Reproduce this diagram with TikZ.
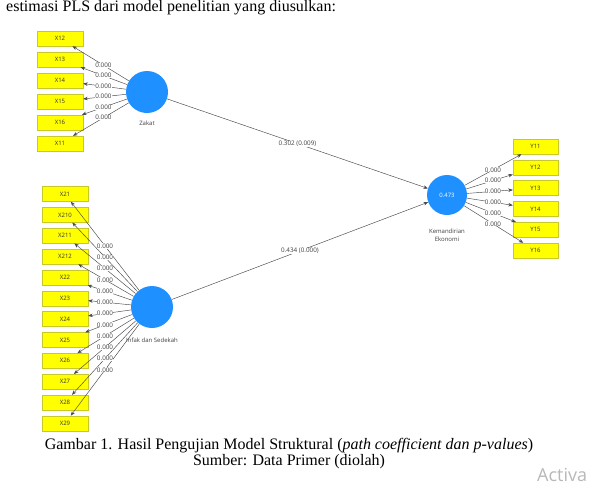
\documentclass[tikz,border=0pt]{standalone}
\usepackage{fontspec}
\setmainfont{Liberation Serif}
\newfontfamily\uifont{Open Sans}
\usetikzlibrary{arrows.meta}
\definecolor{lvblue}{RGB}{30,144,255}
\definecolor{indbox}{RGB}{255,255,0}
\definecolor{indborder}{RGB}{200,200,40}
\begin{document}
\begin{tikzpicture}[x=1pt,y=-1pt,
  ind/.style={draw=indborder, fill=indbox, line width=0.4pt, minimum width=46pt, minimum height=15pt, inner sep=0pt, font=\uifont\fontsize{6}{7}\selectfont, text=black!80},
  lv/.style={circle, fill=lvblue, minimum size=42pt, inner sep=0pt, font=\uifont\fontsize{6}{7}\selectfont, text=white},
  ld/.style={font=\uifont\fontsize{6.3}{7}\selectfont, fill=white, inner sep=0.3pt, text=black!75},
  lvlab/.style={font=\uifont\fontsize{6}{8}\selectfont, text=black!75, align=center},
  conn/.style={draw=black!72, line width=0.45pt, -{Stealth[length=4.5pt,width=3.5pt]}}]
\useasboundingbox (0,0) rectangle (593,488);
\fill[white] (0,0) rectangle (593,488);

% top text
\node[anchor=base west, inner sep=0pt, font=\fontsize{16}{18}\selectfont] (toptext) at (6,11) {estimasi PLS dari model penelitian yang diusulkan:};

% latent variables
\node[lv] (zak) at (147,92) {};
\node[lv] (inf) at (152,307) {};
\node[lv, minimum size=40pt] (kem) at (447,195) {0.473};
\node[lvlab] (zaklab) at (147,123) {Zakat};
\node[lvlab] (inflab) at (152,340) {Infak dan Sedekah};
\node[lvlab] (kemlab) at (447,235.5) {Kemandirian\\Ekonomi};

% Zakat indicators
\foreach \n [count=\i from 0] in {X12,X13,X14,X15,X16,X11}
  \node[ind] (\n) at (60,38.5+21*\i) {\n};
% Infak indicators
\foreach \n [count=\i from 0] in {X21,X210,X211,X212,X22,X23,X24,X25,X26,X27,X28,X29}
  \node[ind] (\n) at (65,194+20.85*\i) {\n};
% Kemandirian indicators
\foreach \n [count=\i from 0] in {Y11,Y12,Y13,Y14,Y15,Y16}
  \node[ind, minimum width=45pt] (\n) at (535.5,146.5+20.8*\i) {\n};

% outer loadings
\foreach \n in {X12,X13,X14,X15,X16,X11}
  \draw[conn] (zak) -- (\n);
\foreach \n in {X21,X210,X211,X212,X22,X23,X24,X25,X26,X27,X28,X29}
  \draw[conn] (inf) -- (\n);
\foreach \n in {Y11,Y12,Y13,Y14,Y15,Y16}
  \draw[conn] (kem) -- (\n);
\foreach \n in {X12,X13,X14,X15,X16,X11}
  \path (zak.center) -- (\n.center) node[ld, pos=0.5] {0.000};
\foreach \n in {X21,X210,X211,X212,X22,X23,X24,X25,X26,X27,X28,X29}
  \path (inf.center) -- (\n.center) node[ld, pos=0.54] {0.000};
\foreach \n in {Y11,Y12,Y13,Y14,Y15,Y16}
  \path (kem.center) -- (\n.center) node[ld, pos=0.52] {0.000};

% structural paths
\draw[conn] (zak) -- (kem) node[ld, pos=0.5] {0.302 (0.009)};
\draw[conn] (inf) -- (kem) node[ld, pos=0.5] {0.434 (0.000)};

% caption
\node[anchor=base, inner sep=0pt, font=\fontsize{16}{18}\selectfont] (cap1) at (289,449) {Gambar 1. Hasil Pengujian Model Struktural (\textit{path coefficient dan p-values})};
\node[anchor=base, inner sep=0pt, font=\fontsize{16}{18}\selectfont] (cap2) at (289,465) {Sumber: Data Primer (diolah)};

% watermark
\node[anchor=base west, inner sep=0pt, font=\uifont\fontsize{18}{20}\selectfont, text=black!28] (wm) at (537,481) {Activa};
\end{tikzpicture}
\end{document}
